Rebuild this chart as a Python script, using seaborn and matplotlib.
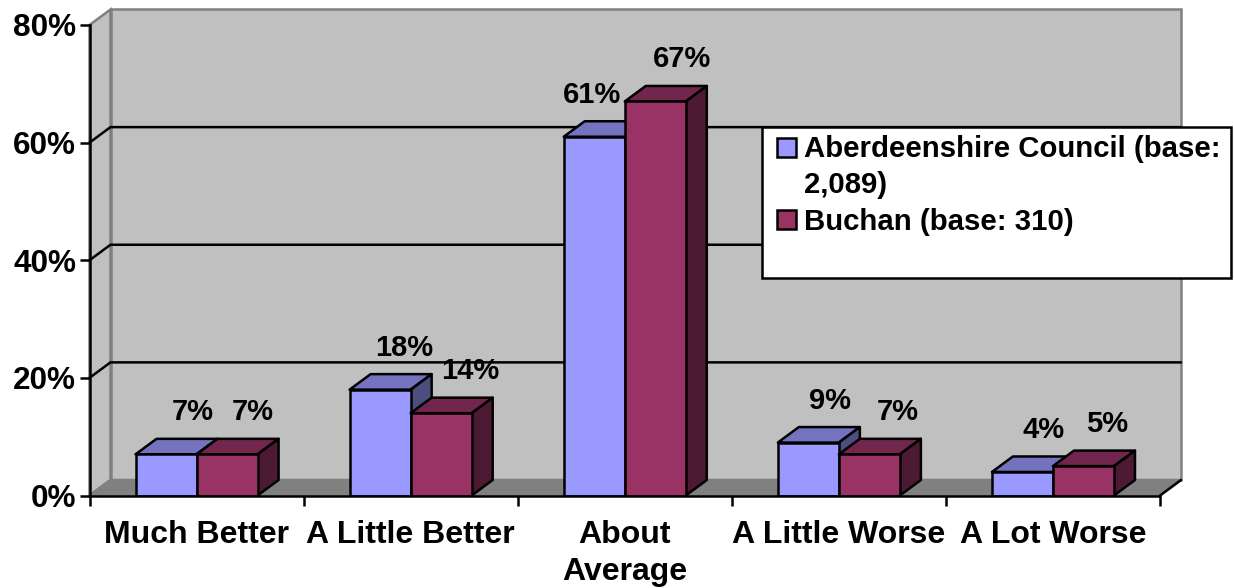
"""
Excel-style pseudo 3D clustered bars: Aberdeenshire Council vs Buchan.
Front faces come from seaborn, depth faces are added from the bar patches.
"""

import matplotlib
matplotlib.use("Agg")
import matplotlib.pyplot as plt
import pandas as pd
import seaborn as sns
from matplotlib.patches import Polygon, Rectangle

CATEGORIES = ["Much Better", "A Little Better", "About\nAverage", "A Little Worse", "A Lot Worse"]
COUNCIL_VALUES = [7, 18, 61, 9, 4]
BUCHAN_VALUES = [7, 14, 67, 7, 5]
COUNCIL_LABEL = "Aberdeenshire Council (base:\n2,089)"
BUCHAN_LABEL = "Buchan (base: 310)"
Y_TICKS = [0, 20, 40, 60, 80]
Y_TICK_LABELS = ["0%", "20%", "40%", "60%", "80%"]

COUNCIL_COLORS = ("#9999FF", "#7373BF", "#4D4D80")
BUCHAN_COLORS = ("#993366", "#73264D", "#4D1A33")
WALL = "#C0C0C0"
FLOOR = "#808080"

W, H = 1234, 588
LEFT, RIGHT, TOP, BOTTOM = 89.5, 1160, 25, 495.5
DEPTH_X, DEPTH_Y = 21, 15.5
LW = 1.8

# hand placed data labels in Excel, offsets from bar centre in pixels
COUNCIL_DX = [27, 24, -2, 22, 21]
BUCHAN_DX = [26, 29, 27, 28, 24]
LABEL_DY = 42


def px(x, y):
    return x / W, 1 - y / H


sns.set_style("white")
plt.rcParams["font.family"] = ["Liberation Sans", "DejaVu Sans"]
plt.rcParams["font.weight"] = "bold"
plt.rcParams["text.color"] = "black"
plt.rcParams["xtick.labelcolor"] = "black"
plt.rcParams["ytick.labelcolor"] = "black"

df = pd.DataFrame(
    {
        "category": CATEGORIES * 2,
        "value": COUNCIL_VALUES + BUCHAN_VALUES,
        "area": [COUNCIL_LABEL] * 5 + [BUCHAN_LABEL] * 5,
    }
)

fig = plt.figure(figsize=(W / 100, H / 100), dpi=100, facecolor="white")
ax = fig.add_axes([LEFT / W, 1 - BOTTOM / H, (RIGHT - LEFT) / W, (BOTTOM - TOP) / H])
ax.patch.set_visible(False)

sns.barplot(
    data=df, x="category", y="value", hue="area",
    palette=[COUNCIL_COLORS[0], BUCHAN_COLORS[0]],
    width=122 / 214, gap=0, saturation=1,
    edgecolor="black", linewidth=LW, ax=ax,
)
ax.set_xlim(-0.5, 4.5)
ax.set_ylim(0, 80)
ax.set_xlabel("")
ax.set_ylabel("")

dx = DEPTH_X / ((RIGHT - LEFT) / 5)
dy = DEPTH_Y / ((BOTTOM - TOP) / 80)
x0, x1 = -0.5, 4.5

# walls and floor
ax.add_patch(Polygon([(x0 + dx, dy), (x1 + dx, dy), (x1 + dx, 80 + dy), (x0 + dx, 80 + dy)],
                     facecolor=WALL, edgecolor=FLOOR, lw=LW, clip_on=False, zorder=0))
ax.add_patch(Polygon([(x0, 0), (x0 + dx, dy), (x0 + dx, 80 + dy), (x0, 80)],
                     facecolor=WALL, edgecolor=FLOOR, lw=LW, clip_on=False, zorder=0))
ax.add_patch(Polygon([(x0, 0), (x0 + dx, dy), (x1 + dx, dy), (x1, 0)],
                     facecolor=FLOOR, edgecolor=FLOOR, lw=LW, clip_on=False, zorder=0.5))
ax.plot([x1, x1 + dx], [0, dy], color="black", lw=LW, clip_on=False, zorder=0.6)
for t in Y_TICKS[1:-1]:
    ax.plot([x0, x0 + dx, x1 + dx], [t, t + dy, t + dy], color="black", lw=LW,
            clip_on=False, zorder=1)

# depth faces and labels, one series over the other
series = [
    (COUNCIL_COLORS, COUNCIL_VALUES, COUNCIL_DX, 3),
    (BUCHAN_COLORS, BUCHAN_VALUES, BUCHAN_DX, 5),
]
for container, (colors, values, offsets, z) in zip(ax.containers, series):
    for bar, value, off in zip(container, values, offsets):
        bx0, bx1 = bar.get_x(), bar.get_x() + bar.get_width()
        top = bar.get_height()
        ax.add_patch(Polygon([(bx0, top), (bx0 + dx, top + dy), (bx1 + dx, top + dy), (bx1, top)],
                             facecolor=colors[1], edgecolor="black", lw=LW, zorder=z,
                             joinstyle="round", clip_on=False))
        ax.add_patch(Polygon([(bx1, 0), (bx1 + dx, dy), (bx1 + dx, top + dy), (bx1, top)],
                             facecolor=colors[2], edgecolor="black", lw=LW, zorder=z,
                             joinstyle="round", clip_on=False))
        bar.set_zorder(z + 0.5)
        ax.annotate(f"{value}%", ((bx0 + bx1) / 2, top), xytext=(off, LABEL_DY),
                    textcoords="offset pixels", ha="center", va="center",
                    fontsize=21, fontweight="bold", color="black", zorder=8)

# axes
sns.despine(ax=ax)
for side in ("left", "bottom"):
    ax.spines[side].set_linewidth(LW)
    ax.spines[side].set_color("black")
    ax.spines[side].set_zorder(7)
ax.set_yticks(Y_TICKS, Y_TICK_LABELS, fontsize=22.7, fontweight="bold")
ax.tick_params(axis="y", length=7.2, width=LW, color="black", left=True, pad=2.5)
ax.set_xticks(range(5), CATEGORIES, fontsize=23, fontweight="bold", linespacing=1.3)
ax.tick_params(axis="x", which="major", length=0, pad=17.5)
ax.set_xticks([i - 0.5 for i in range(6)], minor=True)
ax.tick_params(axis="x", which="minor", length=7.2, width=LW, color="black", bottom=True)
ax.grid(False)

# legend: white box is larger than its entries in the original
fx, fy = px(762, 278)
fw, fh = 469 / W, 151 / H
fig.add_artist(Rectangle((fx, fy), fw, fh, transform=fig.transFigure, facecolor="white",
                         edgecolor="black", lw=LW, zorder=10))
handles, labels = ax.get_legend_handles_labels()
ax.get_legend().remove()
leg = fig.legend(
    handles, labels, loc="upper left", bbox_to_anchor=px(770, 127.5), frameon=False,
    prop={"size": 21.2, "weight": "bold", "family": "Liberation Sans"},
    handlelength=0.62, handleheight=0.62, handletextpad=0.3, labelspacing=0.32,
    borderpad=0.25, borderaxespad=0, labelcolor="black",
)
leg.set_zorder(11)
leg.get_texts()[0].set_linespacing(1.36)
for h in leg.legend_handles:
    h.set_edgecolor("black")
    h.set_linewidth(LW)
# Excel lines the swatch up with the first text row, not the middle of the two
first = leg.legend_handles[0]
first.set_y(first.get_y() + 14.5)

fig.savefig("out.png", dpi=100)
